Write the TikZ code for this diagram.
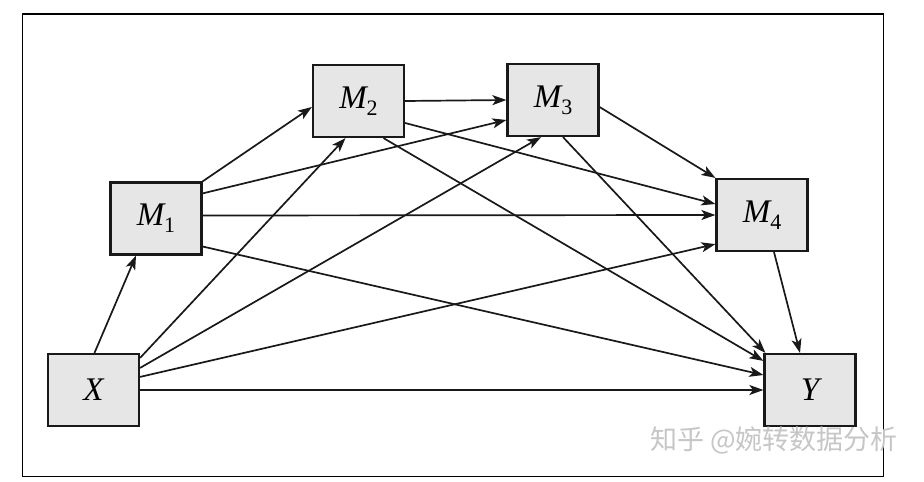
\documentclass[tikz,border=0pt]{standalone}
\usepackage{fontspec}
\setmainfont{Liberation Serif}[ItalicFont={Liberation Serif Italic}]
\newfontfamily\cjk{Noto Sans CJK SC}
\newfontfamily\ltimes{Liberation Serif}[ItalicFont={Liberation Serif Italic}]
\usetikzlibrary{arrows.meta}
\definecolor{boxfill}{HTML}{E6E6E6}
\definecolor{wmgray}{HTML}{C6C6C6}
\newcommand{\vname}[2]{{\itshape #1}{\fontsize{22}{22}\selectfont\raisebox{-7pt}{#2}}}
\tikzset{
  varbox/.style={draw=black!90, fill=boxfill, line width=2.2pt, minimum width=91pt, minimum height=72pt, inner sep=0pt, font=\ltimes\fontsize{33}{33}\selectfont},
  link/.style={line width=1.7pt, black!90, -{Stealth[length=14pt,width=10pt,inset=3.5pt]}}
}
\begin{document}
\begin{tikzpicture}[x=1pt,y=-1pt]
\useasboundingbox (0,0) rectangle (924,482);
\fill[white] (0,0) rectangle (924,482);
\draw[line width=1.2pt] (22.5,14) rectangle (883.5,476.5);

\node[varbox] (X)  at (93.5,390) {\itshape X};
\node[varbox] (M1) at (156,218.5) {\vname{M}{1}};
\node[varbox] (M2) at (358.5,101) {\vname{M}{2}};
\node[varbox] (M3) at (553,100) {\vname{M}{3}};
\node[varbox] (M4) at (762,215) {\vname{M}{4}};
\node[varbox] (Y)  at (810,390) {\itshape Y};

\draw[link] ([xshift=1pt]X.north) -- ([xshift=-20pt]M1.south);
\draw[link] ([yshift=-5pt]X.north east) -- ([xshift=-13pt]M2.south);
\draw[link] ([yshift=-15pt]X.north east) -- ([xshift=-12pt]M3.south);
\draw[link] ([yshift=-24pt]X.north east) -- ([yshift=8pt]M4.south west);
\draw[link] (X.east) -- (Y.west);

\draw[link] (M1.north east) -- ([yshift=-6pt]M2.west);
\draw[link] ([yshift=-12pt]M1.north east) -- ([yshift=-20pt]M3.west);
\draw[link] ([yshift=3pt]M1.east) -- (M4.west);
\draw[link] ([yshift=-28pt]M1.east) -- ([yshift=15pt]Y.west);

\draw[link] (M2.east) -- (M3.west);
\draw[link] ([yshift=-22pt]M2.east) -- ([yshift=11pt]M4.west);
\draw[link] ([xshift=25pt]M2.south) -- ([yshift=-8pt]Y.north west);

\draw[link] ([yshift=-7pt]M3.east) -- (M4.north west);
\draw[link] ([xshift=10pt]M3.south) -- ([xshift=2pt]Y.north west);

\draw[link] ([xshift=12pt]M4.south) -- ([xshift=-10pt]Y.north);

\node[text=wmgray, font=\cjk\fontsize{27}{27}\selectfont, anchor=center] (wm) at (774,440) {知乎 @婉转数据分析};
\end{tikzpicture}
\end{document}
